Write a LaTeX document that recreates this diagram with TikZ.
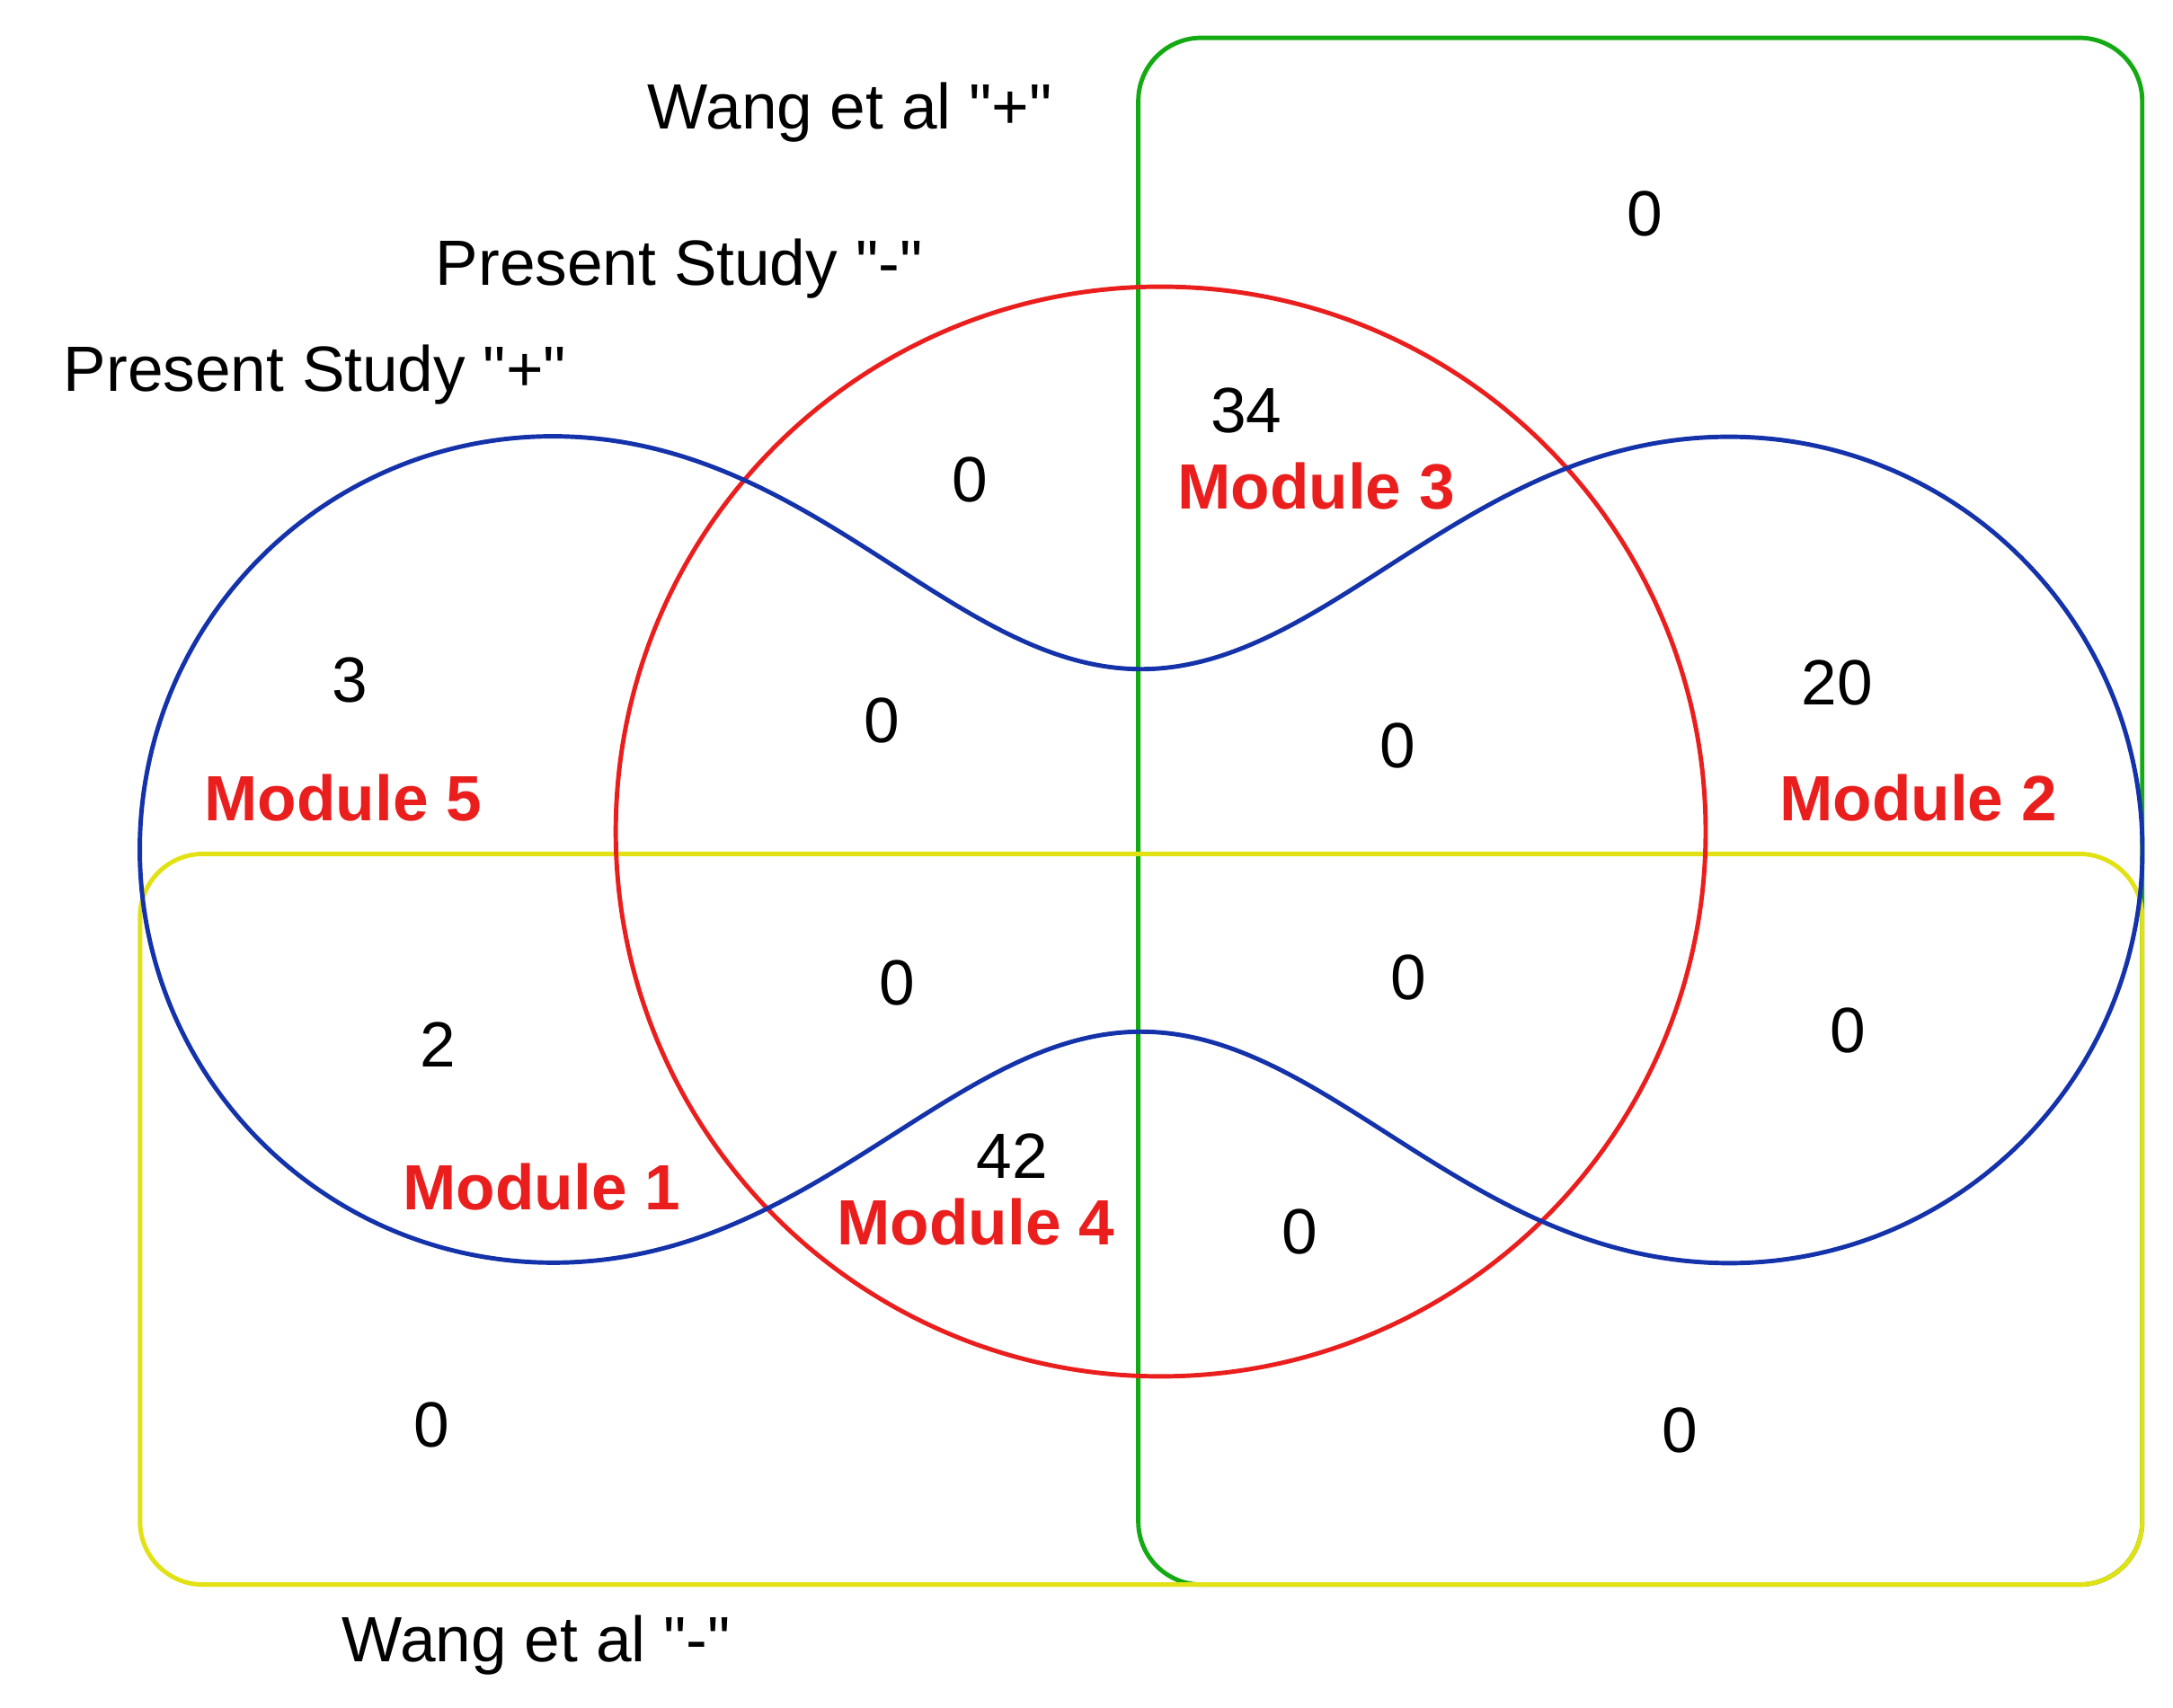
\documentclass[tikz,border=0pt]{standalone}
\usepackage{fontspec}
\setmainfont{Liberation Sans}
\usetikzlibrary{positioning}
\definecolor{colorblue}  {RGB}{20 ,50 ,170}
\definecolor{colorred}   {RGB}{235,30 ,30 }
\definecolor{colorgreen} {RGB}{20 ,170,20 }
\definecolor{coloryellow}{RGB}{225,225,20 }
\newcommand{\qsign}[1]{\textquotedbl#1\textquotedbl}

\begin{document}
\begin{tikzpicture}[
    x=0.01cm, y=-0.01cm,
    txt/.style={font={\fontsize{13pt}{15pt}\selectfont},inner sep=0pt},
    module/.style={txt,text=colorred,font={\fontsize{13pt}{15pt}\selectfont\bfseries}},
    set/.style={line width=0.9pt},
]
    \useasboundingbox (0,0) rectangle (1552,1220);

    % Sets
    \draw[set,colorgreen,rounded corners=0.45cm] (813,27) rectangle (1530,1132);
    \draw[set,coloryellow,rounded corners=0.45cm] (100,610) rectangle (1530,1132);
    \draw[set,colorred] (829,594) circle[radius=3.89cm];
    \draw[set,colorblue] (815,478) .. controls (950,478) and (1050,312) .. (1235,312)
        arc[start angle=90,end angle=-90,radius=2.95cm]
        .. controls (1050,902) and (950,737) .. (815,737)
        .. controls (680,737) and (580,902) .. (395,902)
        arc[start angle=270,end angle=90,radius=2.95cm]
        .. controls (580,312) and (680,478) .. (815,478);

    % Titles
    \node[txt] (wangplus)  at (607,80)   {Wang et al \qsign{+}};
    \node[txt] (presminus) at (485,192)  {Present Study \qsign{-}};
    \node[txt] (presplus)  at (225,268)  {Present Study \qsign{+}};
    \node[txt] (wangminus) at (383,1175) {Wang et al \qsign{-}};

    % Counts
    \node[txt] (n1)  at (1175,153) {0};
    \node[txt] (n2)  at (890,293)  {34};
    \node[txt] (n3)  at (693,343)  {0};
    \node[txt] (n4)  at (250,486)  {3};
    \node[txt] (n5)  at (630,515)  {0};
    \node[txt] (n6)  at (998,533)  {0};
    \node[txt] (n7)  at (1312,488) {20};
    \node[txt] (n8)  at (641,702)  {0};
    \node[txt] (n9)  at (1006,698) {0};
    \node[txt] (n10) at (313,746)  {2};
    \node[txt] (n11) at (1320,736) {0};
    \node[txt] (n12) at (723,826)  {42};
    \node[txt] (n13) at (928,880)  {0};
    \node[txt] (n14) at (308,1018) {0};
    \node[txt] (n15) at (1200,1022){0};

    % Modules
    \node[module] (mod3) at (940,347)  {Module 3};
    \node[module] (mod5) at (245,570)  {Module 5};
    \node[module] (mod2) at (1370,570) {Module 2};
    \node[module] (mod1) at (387,848)  {Module 1};
    \node[module] (mod4) at (697,873)  {Module 4};

\end{tikzpicture}
\end{document}
